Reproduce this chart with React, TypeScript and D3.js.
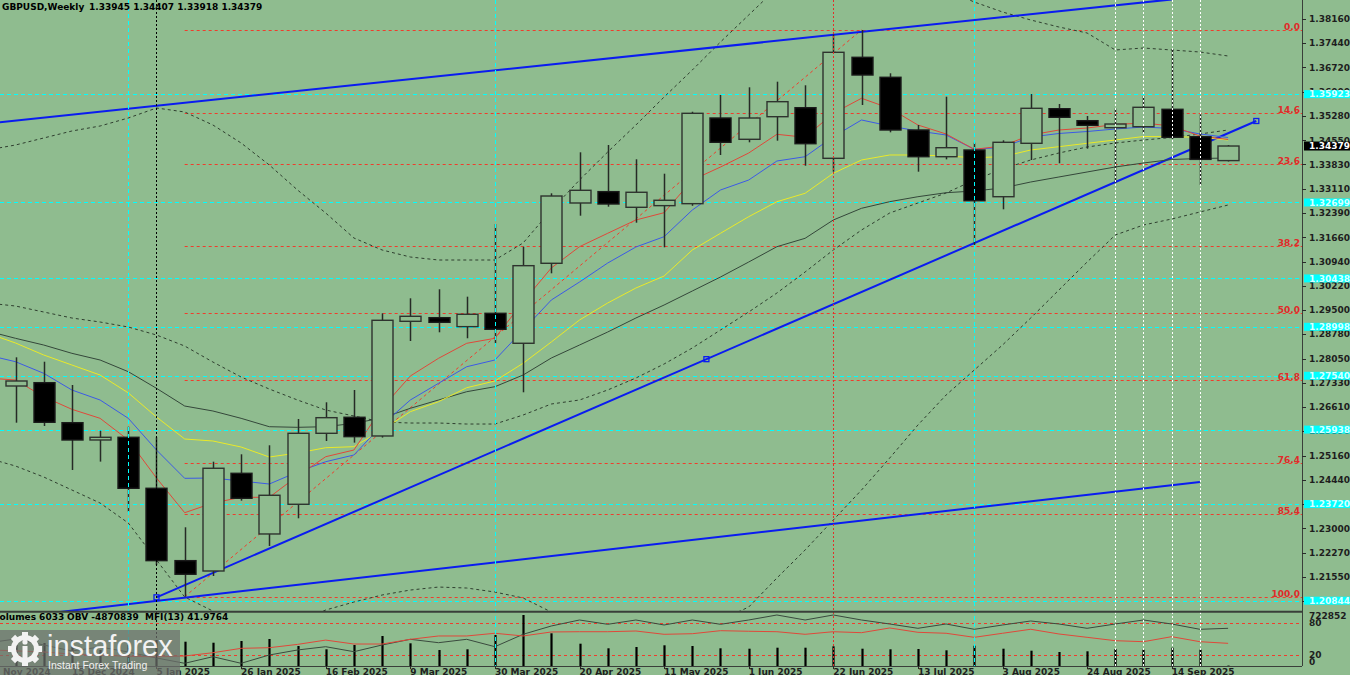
import React from "react";
import * as d3 from "d3";

// ---------- DATA ----------
const weekDates = [
  "24 Nov 2024", "1 Dec 2024", "8 Dec 2024", "15 Dec 2024", "22 Dec 2024", "29 Dec 2024",
  "5 Jan 2025", "12 Jan 2025", "19 Jan 2025", "26 Jan 2025", "2 Feb 2025", "9 Feb 2025",
  "16 Feb 2025", "23 Feb 2025", "2 Mar 2025", "9 Mar 2025", "16 Mar 2025", "23 Mar 2025",
  "30 Mar 2025", "6 Apr 2025", "13 Apr 2025", "20 Apr 2025", "27 Apr 2025", "4 May 2025",
  "11 May 2025", "18 May 2025", "25 May 2025", "1 Jun 2025", "8 Jun 2025", "15 Jun 2025",
  "22 Jun 2025", "29 Jun 2025", "6 Jul 2025", "13 Jul 2025", "20 Jul 2025", "27 Jul 2025",
  "3 Aug 2025", "10 Aug 2025", "17 Aug 2025", "24 Aug 2025", "31 Aug 2025", "7 Sep 2025",
  "14 Sep 2025", "21 Sep 2025", "28 Sep 2025",
];

const openP = [1.2590, 1.27235, 1.27334, 1.26143, 1.25628, 1.25708, 1.24190, 1.22036, 1.21728, 1.24636, 1.22830, 1.23714, 1.25827, 1.26304, 1.25747, 1.29161, 1.29269, 1.29002, 1.29399, 1.28507, 1.30888, 1.32683, 1.33021, 1.32555, 1.32604, 1.32663, 1.35213, 1.34579, 1.35252, 1.35520, 1.34013, 1.37020, 1.36425, 1.34856, 1.34061, 1.34260, 1.32870, 1.34460, 1.35490, 1.35133, 1.34924, 1.34954, 1.35472, 1.34656, 1.33945];
const highP = [1.2749, 1.28089, 1.27958, 1.27265, 1.25906, 1.26024, 1.25708, 1.23029, 1.24982, 1.25202, 1.25470, 1.26253, 1.26750, 1.27116, 1.29399, 1.29846, 1.30114, 1.29894, 1.32058, 1.31383, 1.32971, 1.34192, 1.34409, 1.33984, 1.33555, 1.35400, 1.35898, 1.36127, 1.36294, 1.36187, 1.37700, 1.37833, 1.36544, 1.35005, 1.35847, 1.34478, 1.34549, 1.35927, 1.35630, 1.35273, 1.35502, 1.35868, 1.37258, 1.35323, 1.34407];
const lowP = [1.2487, 1.26143, 1.26045, 1.24735, 1.24984, 1.23494, 1.21907, 1.20963, 1.21579, 1.23822, 1.22473, 1.23297, 1.25598, 1.25549, 1.25700, 1.28575, 1.28834, 1.28656, 1.28507, 1.27048, 1.30590, 1.32305, 1.32573, 1.32097, 1.31364, 1.32600, 1.34112, 1.34490, 1.34538, 1.33793, 1.33615, 1.35600, 1.34787, 1.33615, 1.33982, 1.31433, 1.32495, 1.33963, 1.33865, 1.34300, 1.33287, 1.34775, 1.34588, 1.33218, 1.33918];
const closeP = [1.2735, 1.27384, 1.26155, 1.25628, 1.25708, 1.24190, 1.22036, 1.21631, 1.24786, 1.23892, 1.23982, 1.25827, 1.26292, 1.25727, 1.29191, 1.29310, 1.29131, 1.29370, 1.28923, 1.30817, 1.32891, 1.33061, 1.32653, 1.33002, 1.32764, 1.35353, 1.34490, 1.35213, 1.35699, 1.34448, 1.37169, 1.36493, 1.34856, 1.34061, 1.34329, 1.32751, 1.34490, 1.35502, 1.35234, 1.34996, 1.35034, 1.35532, 1.34638, 1.33982, 1.34379];

const maRed = [1.27473, 1.27413, 1.26916, 1.26541, 1.26273, 1.25627, 1.24496, 1.23463, 1.23752, 1.23921, 1.23921, 1.24555, 1.25130, 1.25329, 1.26580, 1.27532, 1.28059, 1.28506, 1.28655, 1.29744, 1.30748, 1.31382, 1.31781, 1.32177, 1.32394, 1.33367, 1.33754, 1.34171, 1.34728, 1.34639, 1.35353, 1.35800, 1.35502, 1.35005, 1.34737, 1.34281, 1.34380, 1.34707, 1.34856, 1.34915, 1.35020, 1.35064, 1.34975, 1.34677, 1.34573];
const maBlue = [1.28158, 1.27958, 1.27613, 1.27116, 1.26818, 1.26273, 1.25329, 1.24487, 1.24496, 1.24407, 1.24317, 1.24675, 1.24981, 1.25181, 1.26074, 1.26818, 1.27315, 1.27809, 1.28009, 1.28902, 1.29795, 1.30331, 1.30896, 1.31373, 1.31680, 1.32474, 1.33070, 1.33367, 1.33933, 1.34061, 1.34656, 1.35154, 1.34975, 1.34826, 1.34707, 1.34281, 1.34341, 1.34647, 1.34752, 1.34811, 1.34886, 1.34945, 1.34901, 1.34737, 1.34633];
const maYellow = [1.28813, 1.28515, 1.28158, 1.27860, 1.27562, 1.27030, 1.26312, 1.25657, 1.25598, 1.25419, 1.25121, 1.25240, 1.25398, 1.25428, 1.25925, 1.26470, 1.26768, 1.27184, 1.27384, 1.27911, 1.28545, 1.29200, 1.29706, 1.30152, 1.30509, 1.31284, 1.31781, 1.32275, 1.32721, 1.32972, 1.33567, 1.33963, 1.34112, 1.34112, 1.34082, 1.34031, 1.34061, 1.34261, 1.34359, 1.34460, 1.34558, 1.34662, 1.34656, 1.34639, 1.34558];
const maGray = [1.28872, 1.28655, 1.28455, 1.28208, 1.28009, 1.27661, 1.27166, 1.26639, 1.26491, 1.26273, 1.26023, 1.26005, 1.26023, 1.26124, 1.26282, 1.26571, 1.26818, 1.27065, 1.27214, 1.27562, 1.28068, 1.28455, 1.28842, 1.29259, 1.29646, 1.30063, 1.30480, 1.30926, 1.31382, 1.31632, 1.32177, 1.32525, 1.32722, 1.32870, 1.32989, 1.33040, 1.33129, 1.33308, 1.33457, 1.33606, 1.33755, 1.33874, 1.33978, 1.34008, 1.34022];

const bbUpper = [1.34261, 1.34409, 1.34618, 1.34826, 1.34975, 1.35213, 1.35511, 1.35392, 1.35005, 1.34469, 1.33814, 1.33070, 1.32385, 1.31641, 1.31284, 1.31075, 1.30986, 1.30986, 1.30986, 1.31492, 1.32474, 1.33367, 1.34201, 1.35005, 1.35838, 1.36642, 1.37476, 1.38279, 1.39083, 1.39619, 1.40066, 1.40066, 1.39768, 1.39381, 1.39024, 1.38666, 1.38369, 1.38131, 1.37922, 1.37744, 1.37238, 1.37297, 1.37238, 1.37178, 1.37059];
const bbMiddle = [1.29706, 1.29616, 1.29438, 1.29259, 1.29140, 1.28991, 1.28753, 1.28425, 1.27949, 1.27503, 1.27145, 1.26818, 1.26520, 1.26342, 1.26163, 1.26133, 1.26133, 1.26103, 1.26103, 1.26371, 1.26699, 1.26818, 1.27116, 1.27473, 1.27890, 1.28366, 1.28902, 1.29438, 1.30003, 1.30629, 1.31284, 1.31879, 1.32385, 1.32683, 1.32980, 1.33367, 1.33695, 1.33963, 1.34171, 1.34350, 1.34469, 1.34558, 1.34632, 1.34737, 1.34856];
const bbLower = [1.25091, 1.24853, 1.24526, 1.24139, 1.23751, 1.23156, 1.22055, 1.20953, 1.20536, 1.20268, 1.20060, 1.20209, 1.20566, 1.20804, 1.21013, 1.21161, 1.21250, 1.21221, 1.21102, 1.20924, 1.20507, 1.20120, 1.19822, 1.19673, 1.19673, 1.19971, 1.20268, 1.20655, 1.21519, 1.22353, 1.23246, 1.24139, 1.25091, 1.26074, 1.26967, 1.27711, 1.28455, 1.29259, 1.30093, 1.30925, 1.31730, 1.32028, 1.32206, 1.32415, 1.32623];

const volumes = [300000, 297000, 326000, 368500, 227000, 297600, 368500, 344400, 330000, 354000, 382700, 283500, 236700, 297600, 425200, 321700, 226800, 236700, 439400, 722852, 463500, 316100, 250900, 269300, 293400, 283500, 250900, 245200, 259400, 259400, 279200, 245200, 236700, 241000, 222500, 287700, 245200, 216900, 198400, 208400, 241000, 231000, 259400, 231000, 6033];
const obv = [-5708700, -5480700, -5822700, -6164700, -5936700, -6221700, -6563700, -6865800, -6489600, -6865800, -6392700, -6107700, -5919600, -6204600, -5822700, -5497800, -5691600, -5497800, -5919600, -5212800, -4739700, -4397700, -4642800, -4397700, -4682700, -4397700, -4642800, -4397700, -4112700, -4397700, -4112700, -4397700, -4625700, -4870800, -4625700, -4927800, -4682700, -4454700, -4625700, -4870800, -4625700, -4397700, -4625700, -4927800, -4870839];
const mfi = [30, 28, 26, 22, 20, 18, 17, 18.5, 24.6, 32.7, 33.9, 40, 48, 40.7, 40.7, 49.4, 55.6, 55.6, 60.6, 55.6, 63, 63.5, 63.5, 64.8, 58.7, 59.8, 65.4, 64.3, 63.5, 58.7, 63.5, 61.7, 70.4, 62.4, 60.6, 53.1, 60.6, 68, 59.3, 53.1, 46.9, 45, 54.3, 45, 41.9764];

const priceTicks = [1.38160, 1.37440, 1.36720, 1.36000, 1.35280, 1.34550, 1.33830, 1.33110, 1.32390, 1.31660, 1.30940, 1.30220, 1.29500, 1.28780, 1.28050, 1.27330, 1.26610, 1.25890, 1.25160, 1.24440, 1.23720, 1.23000, 1.22270, 1.21550, 1.20830];
const cyanLevels = [1.35923, 1.32699, 1.30438, 1.28998, 1.27540, 1.25938, 1.23720, 1.20844];
const fibRatios = [0.0, 14.6, 23.6, 38.2, 50.0, 61.8, 76.4, 85.4, 100.0];
const fibLowIdx = 7;   // 12 Jan 2025 low
const fibHighIdx = 31; // 29 Jun 2025 high

const cyanVerticals = ["29 Dec 2024", "30 Mar 2025", "27 Jul 2025"];
const blackVerticals = ["5 Jan 2025"];
const redVerticals = ["22 Jun 2025"];
const whiteVerticals = ["31 Aug 2025", "7 Sep 2025", "14 Sep 2025", "21 Sep 2025"];

// trend lines as [week index, price]
const mainTrend = [[6, 1.20944], [45, 1.35124]];
const upperChannel = [[0, 1.35049], [42, 1.38744]];
const lowerChannel = [[2, 1.20453], [43, 1.24377]];

const headerSymbol = "GBPUSD,Weekly";
const headerOHLC = "1.33945 1.34407 1.33918 1.34379";
const volMaxLabel = "722852";

// ---------- CHART ----------
const BG = "#8fbc8f";
const FONT = "DejaVu Sans, Verdana, sans-serif";
const FIB_RED = "#f03c2c";
const AXIS_X = 1302;
const MAIN_B = 611;
const IND_T = 612;
const IND_B = 666;

export default function App() {
  const n = weekDates.length;
  const x = d3.scaleLinear().domain([0, n - 1]).range([-12.7, 1228.1]);
  const y = d3.scaleLinear().domain([1.38726, 1.20537]).range([0, MAIN_B]);
  const yVol = d3.scaleLinear().domain([0, 722852]).range([IND_B, 615]);
  const yObv = d3.scaleLinear().domain([-7019739, -3941739]).range([IND_B, IND_T]);
  const yMfi = d3.scaleLinear().domain([0, 100]).range([IND_B, IND_T]);

  const mkLine = (vals: number[], sc: any) =>
    d3.line<number>().x((_, i) => x(i)).y((d) => sc(d))(vals) || "";

  const idxOf = (d: string) => weekDates.indexOf(d);

  const fibLow = lowP[fibLowIdx];
  const fibHigh = highP[fibHighIdx];
  const fibPrice = (r: number) => fibHigh - (r / 100) * (fibHigh - fibLow);

  const segLine = (pts: number[][]) =>
    d3.line<number[]>().x((p) => x(p[0])).y((p) => y(p[1]))(pts) || "";

  const dateTickIdx = d3.range(0, n, 3);

  const vline = (d: string, color: string, dash: string, key: string) => {
    const xx = Math.round(x(idxOf(d))) + 0.5;
    return <line key={key} x1={xx} x2={xx} y1={0} y2={IND_B} stroke={color} strokeWidth={1} strokeDasharray={dash} />;
  };

  const mid = (mainTrend[0][0] + mainTrend[1][0]) / 2;
  const midP = (mainTrend[0][1] + mainTrend[1][1]) / 2;
  const markers = [mainTrend[0], [mid, midP], mainTrend[1]];

  return (
    <svg width={1350} height={675} style={{ position: "absolute", left: 0, top: 0, display: "block" }}>
      <defs>
        <clipPath id="mainClip"><rect x={0} y={0} width={AXIS_X} height={MAIN_B} /></clipPath>
        <clipPath id="indClip"><rect x={0} y={IND_T} width={AXIS_X} height={IND_B - IND_T} /></clipPath>
      </defs>
      <rect x={0} y={0} width={1350} height={675} fill={BG} />

      {/* MAIN PANEL */}
      <g clipPath="url(#mainClip)">
        {cyanLevels.map((p, i) => (
          <line key={"cy" + i} x1={0} x2={AXIS_X} y1={Math.round(y(p)) + 0.5} y2={Math.round(y(p)) + 0.5}
            stroke="#00ffff" strokeWidth={1} strokeDasharray="4,3" />
        ))}
        {fibRatios.map((r, i) => (
          <line key={"fb" + i} x1={x(fibLowIdx)} x2={AXIS_X} y1={Math.round(y(fibPrice(r))) + 0.5} y2={Math.round(y(fibPrice(r))) + 0.5}
            stroke={FIB_RED} strokeWidth={1} strokeDasharray="3,3" />
        ))}
        <line x1={x(fibLowIdx)} y1={y(fibLow)} x2={x(fibHighIdx)} y2={y(fibHigh)} stroke={FIB_RED} strokeWidth={1} strokeDasharray="3,3" />

        {[bbUpper, bbMiddle, bbLower].map((s, i) => (
          <path key={"bb" + i} d={mkLine(s, y)} fill="none" stroke="#2f3f2f" strokeWidth={1} strokeDasharray="3,3" />
        ))}

        <path d={segLine(upperChannel)} stroke="#0a1cf0" strokeWidth={2} fill="none" />
        <path d={segLine(lowerChannel)} stroke="#0a1cf0" strokeWidth={2} fill="none" />
        <path d={segLine(mainTrend)} stroke="#0a1cf0" strokeWidth={2} fill="none" />

        <path d={mkLine(maGray, y)} fill="none" stroke="#34473a" strokeWidth={1} />
        <path d={mkLine(maYellow, y)} fill="none" stroke="#eaea28" strokeWidth={1} />
        <path d={mkLine(maBlue, y)} fill="none" stroke="#3c5ae6" strokeWidth={1} />
        <path d={mkLine(maRed, y)} fill="none" stroke="#e0483a" strokeWidth={1} />

        {weekDates.map((d, i) => {
          const cx = Math.round(x(i));
          const bull = closeP[i] >= openP[i];
          const top = y(Math.max(openP[i], closeP[i]));
          const bot = y(Math.min(openP[i], closeP[i]));
          return (
            <g key={"c" + i}>
              <line x1={cx + 0.5} x2={cx + 0.5} y1={y(highP[i])} y2={y(lowP[i])} stroke="#262a26" strokeWidth={1.5} />
              <rect x={cx - 10} y={top} width={21} height={Math.max(1.5, bot - top)}
                fill={bull ? BG : "#000"} stroke={bull ? "#2e332e" : "#1a1a1a"} strokeWidth={1.4} />
            </g>
          );
        })}

        {markers.map((m, i) => (
          <rect key={"mk" + i} x={x(m[0]) - 2.5} y={y(m[1]) - 2.5} width={5} height={5} fill="none" stroke="#0a1cf0" strokeWidth={1.3} />
        ))}
      </g>

      {/* INDICATOR PANEL */}
      <g clipPath="url(#indClip)">
        {[80, 20].map((lv) => (
          <line key={"lv" + lv} x1={0} x2={AXIS_X} y1={Math.round(yMfi(lv)) + 0.5} y2={Math.round(yMfi(lv)) + 0.5}
            stroke={FIB_RED} strokeWidth={1} strokeDasharray="3,3" />
        ))}
        {volumes.map((v, i) => (
          <line key={"v" + i} x1={Math.round(x(i)) + 0.5} x2={Math.round(x(i)) + 0.5} y1={IND_B} y2={yVol(v)} stroke="#000" strokeWidth={2.2} />
        ))}
        <path d={mkLine(obv, yObv)} fill="none" stroke="#3a4a3e" strokeWidth={1} />
        <path d={mkLine(mfi, yMfi)} fill="none" stroke="#e0483a" strokeWidth={1} />
      </g>

      {/* vertical markers */}
      {cyanVerticals.map((d, i) => vline(d, "#00ffff", "4,3", "cv" + i))}
      {blackVerticals.map((d, i) => vline(d, "#000", "2,2", "bv" + i))}
      {redVerticals.map((d, i) => vline(d, "#e0302a", "2,2", "rv" + i))}
      {whiteVerticals.map((d, i) => vline(d, "#ffffff", "2,2", "wv" + i))}

      {/* separators and axes */}
      <line x1={0} x2={AXIS_X} y1={611.8} y2={611.8} stroke="#3a3f3a" strokeWidth={2} />
      <line x1={0} x2={AXIS_X} y1={IND_B + 0.5} y2={IND_B + 0.5} stroke="#3a3f3a" strokeWidth={1} />
      <line x1={AXIS_X + 0.5} x2={AXIS_X + 0.5} y1={0} y2={IND_B} stroke="#3a3f3a" strokeWidth={1} />

      {priceTicks.map((p, i) => (
        <g key={"pt" + i}>
          <line x1={AXIS_X} x2={AXIS_X + 4} y1={Math.round(y(p)) + 0.5} y2={Math.round(y(p)) + 0.5} stroke="#2a2a2a" />
          <text x={1309} y={y(p) + 3.3} fontFamily={FONT} fontWeight="bold" fontSize={9} fill="#1e1e1e">{p.toFixed(5)}</text>
        </g>
      ))}

      {cyanLevels.map((p, i) => (
        <g key={"cl" + i}>
          <rect x={1304} y={y(p) - 4} width={46} height={8} fill="#00ffff" />
          <text x={1309} y={y(p) + 3.3} fontFamily={FONT} fontWeight="bold" fontSize={9} fill="#d8ffff">{p.toFixed(5)}</text>
        </g>
      ))}

      <rect x={1304} y={y(closeP[n - 1]) - 4.5} width={46} height={9} fill="#000" />
      <text x={1309} y={y(closeP[n - 1]) + 3.3} fontFamily={FONT} fontWeight="bold" fontSize={9} fill="#fff">{closeP[n - 1].toFixed(5)}</text>

      {fibRatios.map((r, i) => (
        <text key={"fl" + i} x={1300} y={y(fibPrice(r))} textAnchor="end" fontFamily={FONT} fontWeight="bold" fontSize={9} fill="#e02a2a">{r.toFixed(1)}</text>
      ))}

      {/* indicator scale */}
      <text x={1309} y={618.5} fontFamily={FONT} fontWeight="bold" fontSize={9} fill="#1e1e1e">{volMaxLabel}</text>
      {[80, 20, 0].map((lv) => (
        <text key={"il" + lv} x={1309} y={Math.min(664.5, yMfi(lv) + 3)} fontFamily={FONT} fontWeight="bold" fontSize={9} fill="#1e1e1e">{lv}</text>
      ))}

      {/* headers */}
      <text x={2} y={9.5} fontFamily={FONT} fontWeight="bold" fontSize={9} fill="#000">{headerSymbol}</text>
      <text x={89} y={9.5} fontFamily={FONT} fontWeight="bold" fontSize={9} fill="#000">{headerOHLC}</text>
      <text x={-7} y={620} fontFamily={FONT} fontWeight="bold" fontSize={9} fill="#000">{"Volumes " + volumes[n - 1]}</text>
      <text x={67} y={620} fontFamily={FONT} fontWeight="bold" fontSize={9} fill="#000">{"OBV " + obv[n - 1]}</text>
      <text x={145} y={620} fontFamily={FONT} fontWeight="bold" fontSize={9} fill="#000">{"MFI(13) " + mfi[n - 1].toFixed(4)}</text>

      {/* date axis */}
      {dateTickIdx.map((i) => (
        <g key={"dt" + i}>
          <line x1={Math.round(x(i)) + 0.5} x2={Math.round(x(i)) + 0.5} y1={IND_B} y2={IND_B + 3} stroke="#2a2a2a" />
          <text x={x(i)} y={674.5} fontFamily={FONT} fontWeight="bold" fontSize={9} fill="#1e1e1e">{weekDates[i]}</text>
        </g>
      ))}

      {/* logo overlay */}
      <g>
        <rect x={0} y={630} width={180} height={45} fill="#6e706e" opacity={0.72} />
        <g transform="translate(25,649)" fill="#f2f2f2">
          {d3.range(8).map((k) => (
            <rect key={"g" + k} x={-3} y={-17} width={6} height={7} transform={`rotate(${k * 45})`} />
          ))}
          <circle r={11.5} fill="none" stroke="#f2f2f2" strokeWidth={5} />
          <rect x={-2.5} y={-3} width={5} height={12} />
          <circle cx={0} cy={-7} r={2.6} />
        </g>
        <text x={47} y={656} fontFamily="Liberation Sans, Arial, sans-serif" fontSize={29} fill="#f2f2f2">instaforex</text>
        <text x={48} y={668.5} fontFamily="Liberation Sans, Arial, sans-serif" fontSize={10.5} fill="#f2f2f2">Instant Forex Trading</text>
      </g>
    </svg>
  );
}
